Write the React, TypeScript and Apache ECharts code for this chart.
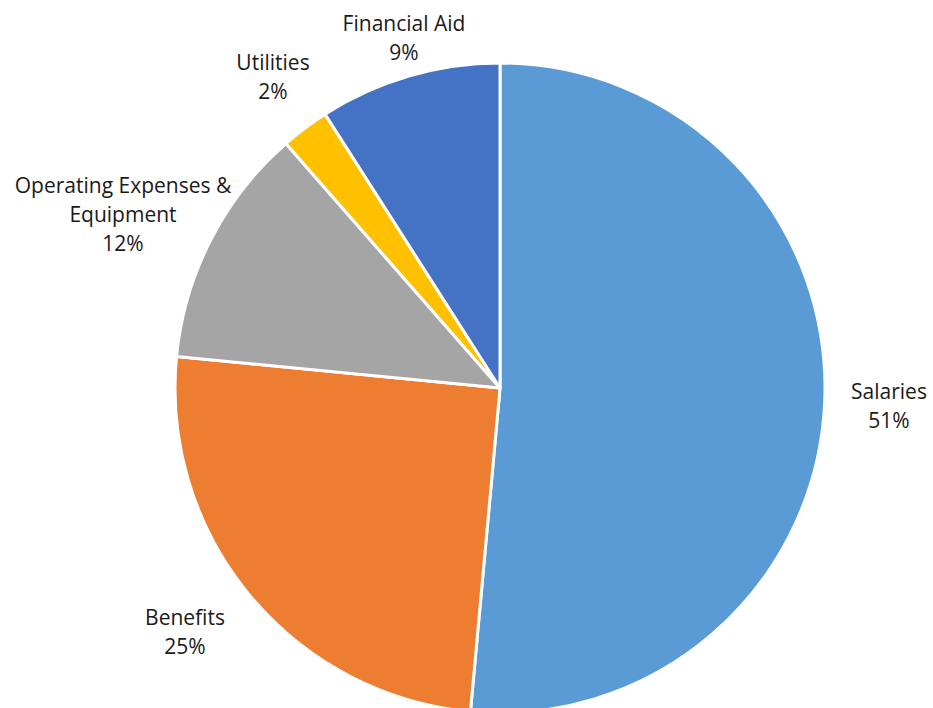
import React, { useEffect, useRef } from "react";
import * as echarts from "echarts";

const categories = [
  "Salaries",
  "Benefits",
  "Operating Expenses &\nEquipment",
  "Utilities",
  "Financial Aid",
];
const values = [51.45, 25.1, 12.0, 2.4, 9.05];
const colors = ["#5B9BD5", "#ED7D31", "#A5A5A5", "#FFC000", "#4472C4"];
// label centres (layout only)
const labelCenters: [number, number][] = [
  [889, 405],
  [185, 631],
  [123, 214],
  [273, 76],
  [404, 37],
];

export default function App() {
  const ref = useRef<HTMLDivElement>(null);
  useEffect(() => {
    document.body.style.margin = "0";
    const chart = echarts.init(ref.current!, null, { renderer: "svg" });
    chart.setOption({
      animation: false,
      backgroundColor: "#ffffff",
      series: [
        {
          type: "pie",
          center: [500, 388],
          radius: 325,
          startAngle: 90,
          clockwise: true,
          data: categories.map((name, i) => ({
            name,
            value: values[i],
            itemStyle: { color: colors[i] },
          })),
          itemStyle: { borderColor: "#ffffff", borderWidth: 3 },
          label: {
            show: true,
            position: "outside",
            formatter: (p: any) => `${p.name}\n${Math.round(p.percent)}%`,
            fontFamily: "Open Sans",
            fontSize: 21,
            lineHeight: 29,
            color: "#1a1a1a",
            align: "center",
            overflow: "none",
            width: 300,
          },
          labelLine: { show: false },
          labelLayout: (p: any) => ({
            x: labelCenters[p.dataIndex][0],
            y: labelCenters[p.dataIndex][1],
            align: "center",
            verticalAlign: "middle",
          }),
          emphasis: { disabled: true },
        },
      ],
    });
    return () => chart.dispose();
  }, []);
  return <div ref={ref} style={{ width: 933, height: 708 }} />;
}
